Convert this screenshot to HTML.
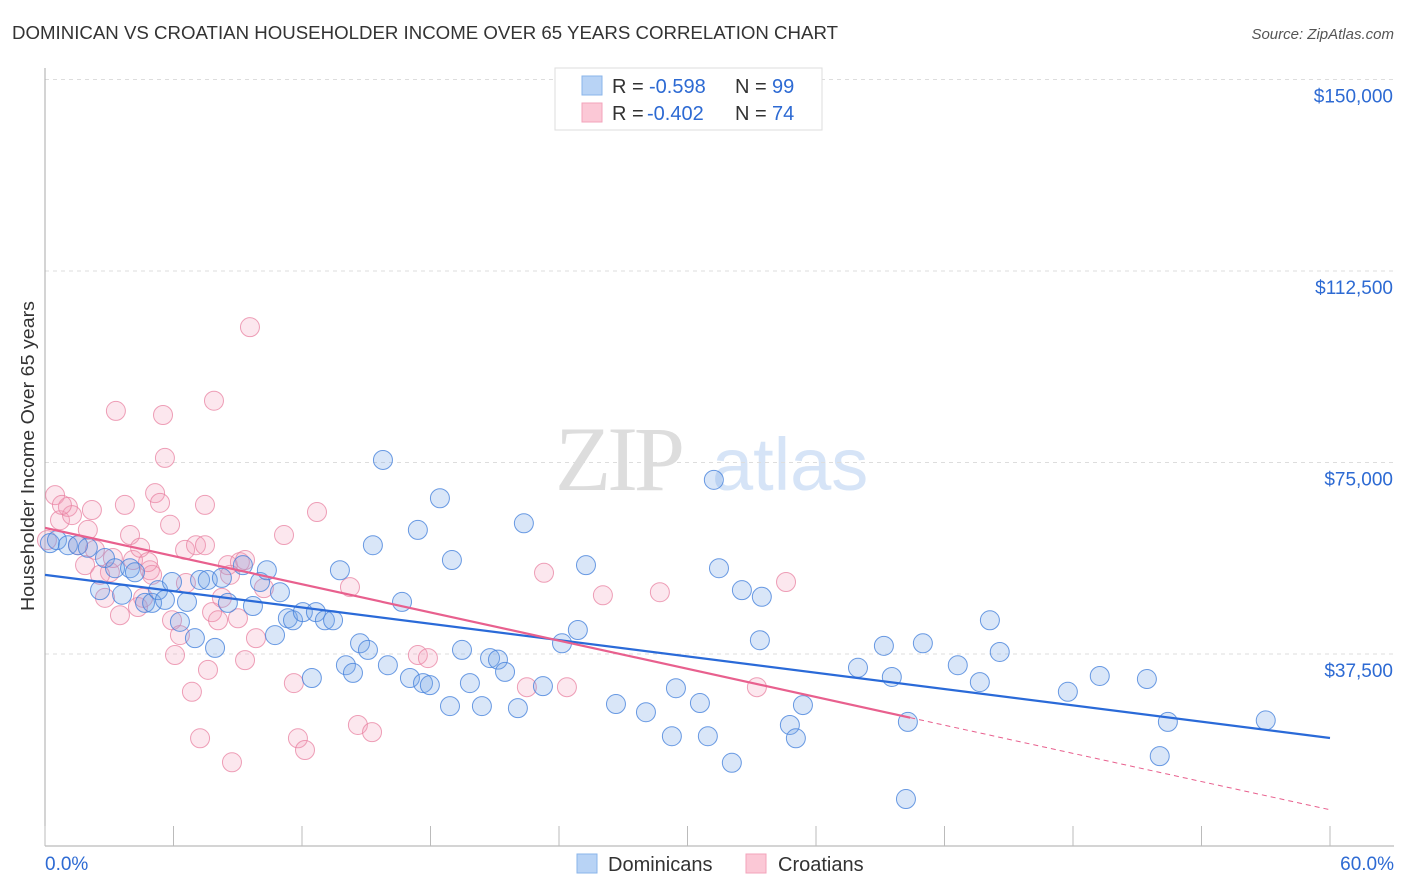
<!DOCTYPE html>
<html><head><meta charset="utf-8"><style>
body{margin:0;background:#fff;font-family:"Liberation Sans",sans-serif}
svg{display:block}
</style></head><body>
<svg id="chart" width="1406" height="892" viewBox="0 0 1406 892" xmlns="http://www.w3.org/2000/svg">
<text x="12" y="39" font-size="18" fill="#333" textLength="826" lengthAdjust="spacingAndGlyphs">DOMINICAN VS CROATIAN HOUSEHOLDER INCOME OVER 65 YEARS CORRELATION CHART</text>
<text x="1394" y="39" font-size="15" fill="#555" font-style="italic" text-anchor="end">Source: ZipAtlas.com</text>
<g>
<text x="555" y="490" font-size="92" fill="#ddd" font-family="Liberation Serif" letter-spacing="-4">ZIP</text>
<text x="712" y="490" font-size="74" fill="#d6e4f7">atlas</text>
</g>
<g id="grid"></g>
<g id="axes"></g>
<g id="pinkpts"></g>
<g id="bluepts"></g>
<g id="trends"></g>
<g>
<rect x="555" y="68" width="267" height="62" fill="#fff" stroke="#ddd"/>
<rect x="582" y="76" width="20" height="19" fill="#b8d3f5" stroke="#8ab4ea"/>
<rect x="582" y="103" width="20" height="19" fill="#fbc8d6" stroke="#f3a3bb"/>
<text x="612" y="93" font-size="20" fill="#333">R = </text>
<text x="649" y="93" font-size="20" fill="#2d6ad3">-0.598</text>
<text x="735" y="93" font-size="20" fill="#333">N = </text>
<text x="772" y="93" font-size="20" fill="#2d6ad3">99</text>
<text x="612" y="120" font-size="20" fill="#333">R = </text>
<text x="647" y="120" font-size="20" fill="#2d6ad3">-0.402</text>
<text x="735" y="120" font-size="20" fill="#333">N = </text>
<text x="772" y="120" font-size="20" fill="#2d6ad3">74</text>
</g>
<g>
<rect x="577" y="854" width="20" height="19" fill="#b8d3f5" stroke="#8ab4ea"/>
<text x="608" y="871" font-size="20" fill="#333">Dominicans</text>
<rect x="746" y="854" width="20" height="19" fill="#fbc8d6" stroke="#f3a3bb"/>
<text x="778" y="871" font-size="20" fill="#333">Croatians</text>
</g>
<text transform="translate(34,456) rotate(-90)" font-size="18" fill="#333" text-anchor="middle" textLength="310" lengthAdjust="spacingAndGlyphs">Householder Income Over 65 years</text>
</svg>
<script>
const xTicks=[0,6,12,18,24,30,36,42,48,54,60];
const yTicks=[37500,75000,112500,150000];
const yTickLabels=["$37,500","$75,000","$112,500","$150,000"];
const xEndLabels=["0.0%","60.0%"];
const blueX=[0.23,0.56,1.07,1.54,2.0,2.57,2.8,3.27,3.6,3.97,4.2,4.67,5.0,5.28,5.6,5.93,6.3,6.63,7.0,7.24,7.6,7.94,8.26,8.54,9.24,9.71,10.04,10.36,10.74,10.97,11.34,11.58,12.04,12.46,12.65,13.07,13.45,13.77,14.05,14.38,14.71,15.08,15.31,15.78,16.01,16.67,17.04,17.41,17.65,17.97,18.44,18.91,19.0,19.47,19.84,20.4,20.78,21.15,21.48,22.08,22.36,23.25,24.14,24.88,25.26,26.66,28.06,29.27,29.46,30.58,30.95,31.23,31.47,32.07,32.54,33.38,33.47,34.78,35.06,35.39,37.96,39.17,39.54,40.29,40.2,40.99,42.62,43.65,44.12,44.58,47.76,49.25,51.45,52.05,52.43,57.0];
const blueY=[59.2,59.8,58.8,58.8,58.3,50.0,56.3,54.3,49.1,54.3,53.5,47.5,47.5,50.0,48.1,51.6,43.8,47.7,40.6,52.0,52.0,38.7,52.4,47.5,54.9,46.9,51.6,53.9,41.2,49.6,44.5,44.1,45.7,32.8,45.7,44.1,44.1,53.9,35.3,33.8,39.6,38.3,58.8,75.5,35.3,47.7,32.8,61.8,31.8,31.4,68.0,27.3,55.9,38.3,31.8,27.3,36.7,36.4,34.0,26.9,63.1,31.2,39.6,42.2,54.9,27.7,26.1,21.4,30.8,27.9,21.4,71.6,54.3,16.2,50.0,40.2,48.7,23.6,21.0,27.5,34.8,39.1,33.0,24.2,9.1,39.6,35.3,32.0,44.1,37.9,30.1,33.2,32.6,17.5,24.2,24.5];
const pinkX=[0.09,0.47,0.7,1.07,1.26,1.54,1.87,2.19,2.33,2.8,3.03,3.17,3.31,3.73,3.97,4.11,4.34,4.58,4.9,5.0,5.14,5.37,5.51,5.6,5.84,5.93,6.07,6.3,6.54,6.86,7.05,7.24,7.47,7.61,7.8,7.89,8.08,8.26,8.54,8.73,9.01,9.1,9.34,9.57,9.85,10.22,11.16,11.62,11.81,12.14,12.7,14.24,14.61,15.27,17.41,17.88,22.5,23.3,24.37,26.05,28.71,33.24,34.6,8.64,7.47,9.34,3.5,4.44,0.79,2.57,2.0,4.81,6.58];
const pinkY=[59.8,68.6,63.7,66.3,64.7,58.8,54.9,65.7,57.9,48.5,53.5,56.3,85.1,66.7,60.8,55.9,46.7,48.5,53.9,53.0,69.0,67.1,84.3,75.9,62.8,44.1,37.3,41.2,57.9,30.1,58.8,21.0,66.7,34.4,45.7,87.1,44.1,48.5,54.9,16.3,44.5,55.5,36.3,101.5,40.6,50.4,60.8,31.8,21.0,18.7,65.3,50.6,23.6,22.2,37.3,36.7,31.0,53.4,31.0,49.0,49.6,31.0,51.6,53.0,58.8,55.9,45.1,58.3,66.7,53.0,61.8,55.5,51.4];
const blueTrend=[53.0,21.05];
const pinkTrend=[62.2,7.0];
const pinkSolidEnd=40.4;

const NS="http://www.w3.org/2000/svg";
const X0=45,X1=1330,YB=845.5,PXK=191.5/37.5;
const xs=v=>X0+(v/60)*(X1-X0);
const ys=k=>YB-k*PXK;
function mk(tag,attrs,parent){const e=document.createElementNS(NS,tag);for(const k in attrs)e.setAttribute(k,attrs[k]);parent.appendChild(e);return e;}
const grid=document.getElementById('grid'),axes=document.getElementById('axes');
yTicks.forEach((t,i)=>{
  const l=mk('line',{x1:X0,x2:1394,y1:ys(t/1000),y2:ys(t/1000),stroke:'#ddd','stroke-dasharray':'4,4'},grid);
  
  
  const tx=mk('text',{x:1393,y:ys(t/1000)+23,'font-size':19,fill:'#2d6ad3','text-anchor':'end'},axes);
  
  
  tx.textContent=yTickLabels[i];
});
const ya=mk('line',{x1:X0,x2:X0,y1:68,y2:846,stroke:'#aaa'},axes);


const xa=mk('line',{x1:X0,x2:1394,y1:846,y2:846,stroke:'#aaa'},axes);


xTicks.forEach(t=>{
  const l=mk('line',{x1:xs(t),x2:xs(t),y1:826,y2:846,stroke:'#bbb'},axes);
  
  
});
[[0,'start',45],[60,'end',1394]].forEach((d,i)=>{
  const tx=mk('text',{x:d[2],y:870,'font-size':19,fill:'#2d6ad3','text-anchor':d[1]},axes);
  
  
  tx.textContent=xEndLabels[i];
});
const pg=document.getElementById('pinkpts'),bg=document.getElementById('bluepts');
pinkX.forEach((x,i)=>{
  const c=mk('circle',{cx:xs(x),cy:ys(pinkY[i]),r:9.5,fill:'rgba(244,160,188,0.25)',stroke:'rgba(232,128,160,0.75)','stroke-width':1},pg);
  
  
});
blueX.forEach((x,i)=>{
  const c=mk('circle',{cx:xs(x),cy:ys(blueY[i]),r:9.5,fill:'rgba(120,165,230,0.28)',stroke:'rgba(70,130,220,0.8)','stroke-width':1},bg);
  
  
});
const tg=document.getElementById('trends');
const bt=mk('line',{x1:xs(0),y1:ys(blueTrend[0]),x2:xs(60),y2:ys(blueTrend[1]),stroke:'#2a6ad8','stroke-width':2.2},tg);


const pAt=x=>pinkTrend[0]+(pinkTrend[1]-pinkTrend[0])*x/60;
const pt=mk('line',{x1:xs(0),y1:ys(pAt(0)),x2:xs(pinkSolidEnd),y2:ys(pAt(pinkSolidEnd)),stroke:'#e8608e','stroke-width':2.2},tg);


const pd=mk('line',{x1:xs(pinkSolidEnd),y1:ys(pAt(pinkSolidEnd)),x2:xs(60),y2:ys(pAt(60)),stroke:'#e8608e','stroke-width':1,'stroke-dasharray':'5,4'},tg);


</script>
</body></html>
